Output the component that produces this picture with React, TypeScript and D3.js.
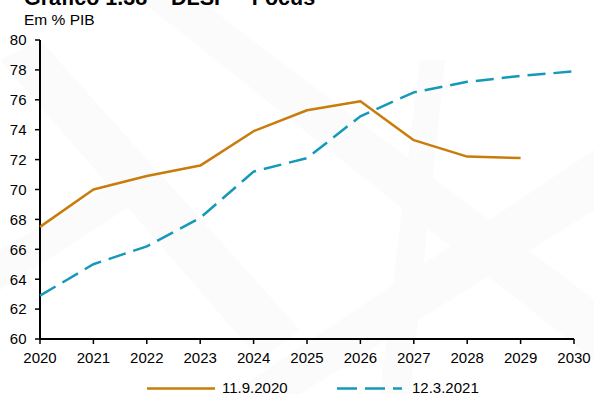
import React from "react";
import * as d3 from "d3";

const years = [2020, 2021, 2022, 2023, 2024, 2025, 2026, 2027, 2028, 2029, 2030];
const seriesSep2020 = [67.5, 70.0, 70.9, 71.6, 73.9, 75.3, 75.9, 73.3, 72.2, 72.1];
const seriesMar2021 = [62.9, 65.0, 66.2, 68.1, 71.2, 72.1, 74.9, 76.5, 77.2, 77.6, 77.9];
const yTicks = [60, 62, 64, 66, 68, 70, 72, 74, 76, 78, 80];
const legendLabels = ["11.9.2020", "12.3.2021"];
const title = "Gráfico 1.38 – DLSP – Focus";
const subtitle = "Em % PIB";

const W = 594;
const H = 394;
const ORANGE = "#c97c0a";
const BLUE = "#1499b9";
const FONT = "Liberation Sans, Arial, sans-serif";

export default function App() {
  const x = d3.scaleLinear().domain([2020, 2030]).range([40, 574]);
  const y = d3.scaleLinear().domain([60, 80]).range([339, 40]);
  const line = d3
    .line<number>()
    .x((_, i) => x(years[i]))
    .y((d) => y(d));

  return (
    <svg
      width={W}
      height={H}
      style={{ position: "absolute", left: 0, top: 0, background: "#fff" }}
      fontFamily={FONT}
    >
      {/* faint background pattern */}
      <g fill="#eeeeee" opacity={0.2}>
        <polygon points="0,60 40,40 300,330 260,360" />
        <polygon points="230,394 594,150 594,210 300,394" />
        <polygon points="380,394 420,60 445,60 410,394" />
        <polygon points="140,0 200,0 594,300 594,360" />
        <polygon points="0,250 120,180 140,200 0,290" />
      </g>

      <text x={24} y={4.5} fontSize={21.5} fontWeight="bold" fill="#000">
        {title}
      </text>
      <text x={24} y={25} fontSize={15.5} fill="#000">
        {subtitle}
      </text>

      {/* Y axis */}
      <line x1={x(2020)} x2={x(2020)} y1={y(80)} y2={y(60)} stroke="#000" strokeWidth={2} />
      {yTicks.map((t) => (
        <g key={t}>
          <line x1={x(2020) - 5} x2={x(2020)} y1={y(t)} y2={y(t)} stroke="#000" strokeWidth={1.5} />
          <text x={26.5} y={y(t) + 5.3} fontSize={15} textAnchor="end" fill="#000">
            {t}
          </text>
        </g>
      ))}

      {/* X axis */}
      <line x1={x(2020)} x2={x(2030)} y1={y(60)} y2={y(60)} stroke="#000" strokeWidth={2} />
      {years.map((yr) => (
        <g key={yr}>
          <line x1={x(yr)} x2={x(yr)} y1={y(60)} y2={y(60) + 5} stroke="#000" strokeWidth={1.5} />
          <text x={x(yr)} y={363} fontSize={15} textAnchor="middle" fill="#000">
            {yr}
          </text>
        </g>
      ))}

      <path d={line(seriesSep2020) || ""} fill="none" stroke={ORANGE} strokeWidth={2.5} strokeLinejoin="round" />
      <path
        d={line(seriesMar2021) || ""}
        fill="none"
        stroke={BLUE}
        strokeWidth={2.5}
        strokeDasharray="18 8"
      />

      {/* Legend */}
      <line x1={147} x2={215} y1={388.5} y2={388.5} stroke={ORANGE} strokeWidth={2.5} />
      <text x={222} y={392.5} fontSize={15} fill="#000">
        {legendLabels[0]}
      </text>
      <line x1={337} x2={402} y1={388.5} y2={388.5} stroke={BLUE} strokeWidth={2.5} strokeDasharray="20 8" />
      <text x={412} y={392.5} fontSize={15} fill="#000">
        {legendLabels[1]}
      </text>
    </svg>
  );
}
